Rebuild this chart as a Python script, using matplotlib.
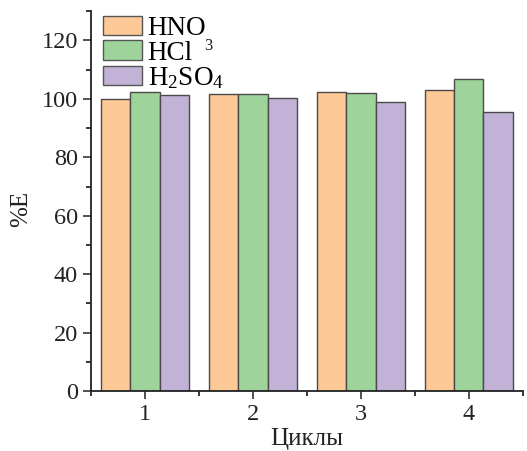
import matplotlib
matplotlib.use("Agg")
import matplotlib.pyplot as plt
import numpy as np
from matplotlib.ticker import MultipleLocator

plt.rcParams['font.family'] = ['Liberation Serif', 'DejaVu Serif']
plt.rcParams['mathtext.fontset'] = 'custom'
plt.rcParams['mathtext.rm'] = 'Liberation Serif'
plt.rcParams['mathtext.it'] = 'Liberation Serif:italic'

cycles = [1, 2, 3, 4]
hno3 = [100.0, 101.6, 102.2, 103.0]
hcl = [102.5, 101.7, 102.1, 106.8]
h2so4 = [101.4, 100.2, 98.9, 95.4]
series_labels = ['HNO', 'HCl', 'H$_2$SO$_4$']
colors = ['#FDCA97', '#9ED49C', '#C2B2D7']

fig = plt.figure(figsize=(5.27, 4.51), dpi=100)
ax = fig.add_axes([0.1727, 0.133, 0.8195, 0.842])

x = np.array(cycles, dtype=float)
w = 0.27
for i, (vals, lab, c) in enumerate(zip([hno3, hcl, h2so4], series_labels, colors)):
    ax.bar(x + (i - 1) * w, vals, width=w, color=c, edgecolor='#4a4a4a', linewidth=1.0, label=lab)

ax.set_xlim(0.5, 4.5)
ax.set_ylim(0, 130)
ax.set_xticks(cycles)
ax.xaxis.set_minor_locator(MultipleLocator(0.5))
ax.yaxis.set_minor_locator(MultipleLocator(10))
ax.set_yticks([0, 20, 40, 60, 80, 100, 120])
ax.tick_params(axis='both', which='major', direction='out', length=6, width=1.1, labelsize=17.5, colors='#222222')
ax.tick_params(axis='both', which='minor', direction='out', length=3.5, width=1.1)
for s in ['top', 'right']:
    ax.spines[s].set_visible(False)
for s in ['left', 'bottom']:
    ax.spines[s].set_linewidth(1.3)
    ax.spines[s].set_color('#222222')

ax.set_xlabel('Циклы', fontsize=18, labelpad=2, color='#222222')
ax.set_ylabel('%E', fontsize=18, color='#222222')
ax.yaxis.set_label_coords(-0.137, 0.48)

leg = ax.legend(loc='upper left', bbox_to_anchor=(-0.01, 1.03), frameon=False, fontsize=19.5,
                handlelength=1.45, handleheight=0.72, labelspacing=-0.03, handletextpad=0.2,
                borderaxespad=0.2)
for p in leg.get_patches():
    p.set_edgecolor('#555555')
ax.text(0.262, 0.898, '3', transform=ax.transAxes, fontsize=12, color='#222222')

fig.savefig('out.png', dpi=100)
